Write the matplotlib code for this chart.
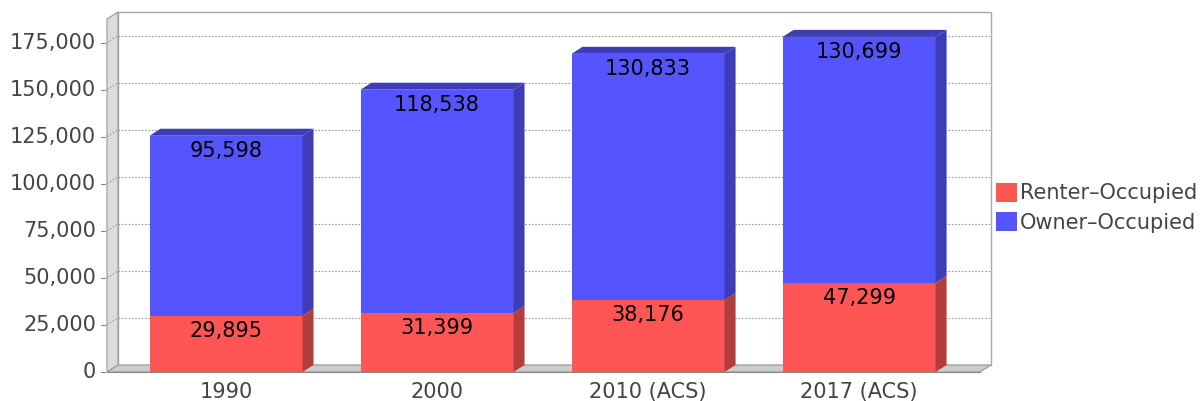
import matplotlib
matplotlib.use("Agg")
import matplotlib.pyplot as plt
from matplotlib.patches import Polygon, Patch
import numpy as np

categories = ["1990", "2000", "2010 (ACS)", "2017 (ACS)"]
renter = [29895, 31399, 38176, 47299]
owner = [95598, 118538, 130833, 130699]
series_names = ["Renter\u2013Occupied", "Owner\u2013Occupied"]
yticks = [0, 25000, 50000, 75000, 100000, 125000, 150000, 175000]

RED, RED_D = "#ff5555", "#b33c3c"
BLUE, BLUE_D = "#5555ff", "#3d3db5"
TXT = "#444444"
FS = 15

W, H = 1201, 401
DX, DY = 11, 7  # 3D depth offset in pixels

fig = plt.figure(figsize=(W / 100, H / 100), dpi=100)
left, right, bottom, top = 107, 980, 372, 19
ax = fig.add_axes([left / W, (H - bottom) / H, (right - left) / W, (bottom - top) / H])
ax.set_xlim(-0.564, 3.573)
ax.set_ylim(0, 187500)
ax.axis("off")
fig.canvas.draw()

ID = matplotlib.transforms.IdentityTransform()

def disp(x, y):
    return ax.transData.transform((x, y))

def add_poly(pts, fc, ec="none", lw=0.8, z=1):
    p = Polygon(pts, closed=True, facecolor=fc, edgecolor=ec, linewidth=lw, zorder=z)
    ax.add_artist(p)
    p.set_transform(ID)
    p.set_clip_on(False)
    return p

x0, x1 = ax.get_xlim()
y0, y1 = ax.get_ylim()
fl, fb = disp(x0, y0)
fr, ft = disp(x1, y1)

# back wall
add_poly([(fl + DX, fb + DY), (fr + DX, fb + DY), (fr + DX, ft + DY), (fl + DX, ft + DY)],
         "white", "#aaaaaa", 1.0, z=0.5)
# left wall
add_poly([(fl, fb), (fl, ft), (fl + DX, ft + DY), (fl + DX, fb + DY)], "#dddddd", "#999999", 0.8, z=0.6)
# floor
add_poly([(fl, fb), (fr, fb), (fr + DX, fb + DY), (fl + DX, fb + DY)], "#cccccc", "#999999", 0.8, z=0.6)

# gridlines + ticks
for v in yticks:
    px, py = disp(x0, v)
    if v > 0:
        ax.plot([px + DX, fr + DX], [py + DY, py + DY], transform=ID, color="#999999",
                lw=0.8, ls=(0, (1.5, 1.5)), zorder=0.7, clip_on=False)
        ax.plot([px, px + DX], [py, py + DY], transform=ID, color="#999999",
                lw=0.8, ls=(0, (1.5, 1.5)), zorder=0.7, clip_on=False)
    ax.plot([px - 6, px - 2], [py, py], transform=ID, color="#888888", lw=0.8, clip_on=False)
    ax.text(px - 11, py, f"{v:,}", transform=ID, ha="right", va="center",
            fontsize=FS, color=TXT)

# x-axis line (front)
ax.plot([fl, fr], [fb, fb], transform=ID, color="#888888", lw=0.8, clip_on=False, zorder=0.8)

width = 0.725
xs = np.arange(len(categories))
for i, cat in enumerate(categories):
    segs = [(0, renter[i], RED, RED_D), (renter[i], renter[i] + owner[i], BLUE, BLUE_D)]
    for (a, b, c, cd) in segs:
        lx, by = disp(xs[i] - width / 2, a)
        rx, ty = disp(xs[i] + width / 2, b)
        add_poly([(lx, by), (rx, by), (rx, ty), (lx, ty)], c, z=3)
        add_poly([(rx, by), (rx + DX, by + DY), (rx + DX, ty + DY), (rx, ty)], cd, z=3)
    # top face
    lx, ty = disp(xs[i] - width / 2, renter[i] + owner[i])
    rx, _ = disp(xs[i] + width / 2, renter[i] + owner[i])
    add_poly([(lx, ty), (rx, ty), (rx + DX, ty + DY), (lx + DX, ty + DY)], BLUE_D, z=3)
    # labels
    cx, _ = disp(xs[i], 0)
    for val, topv in [(renter[i], renter[i]), (owner[i], renter[i] + owner[i])]:
        _, ty = disp(xs[i], topv)
        ax.text(cx, ty - 13, f"{val:,}", transform=ID, ha="center", va="center_baseline",
                fontsize=FS, color="black", zorder=5)
    ax.text(cx, fb - 20, cat, transform=ID, ha="center", va="center", fontsize=FS, color=TXT)

handles = [Patch(facecolor=RED, edgecolor="none"), Patch(facecolor=BLUE, edgecolor="none")]
fig.legend(handles, series_names, loc="upper left", bbox_to_anchor=(996 / W, 1 - 183 / H),
           frameon=False, fontsize=FS, handlelength=1.0, handleheight=1.0, handletextpad=0.15,
           labelspacing=0.42, borderpad=0, borderaxespad=0, labelcolor=TXT)

fig.savefig("out.png", dpi=100)
